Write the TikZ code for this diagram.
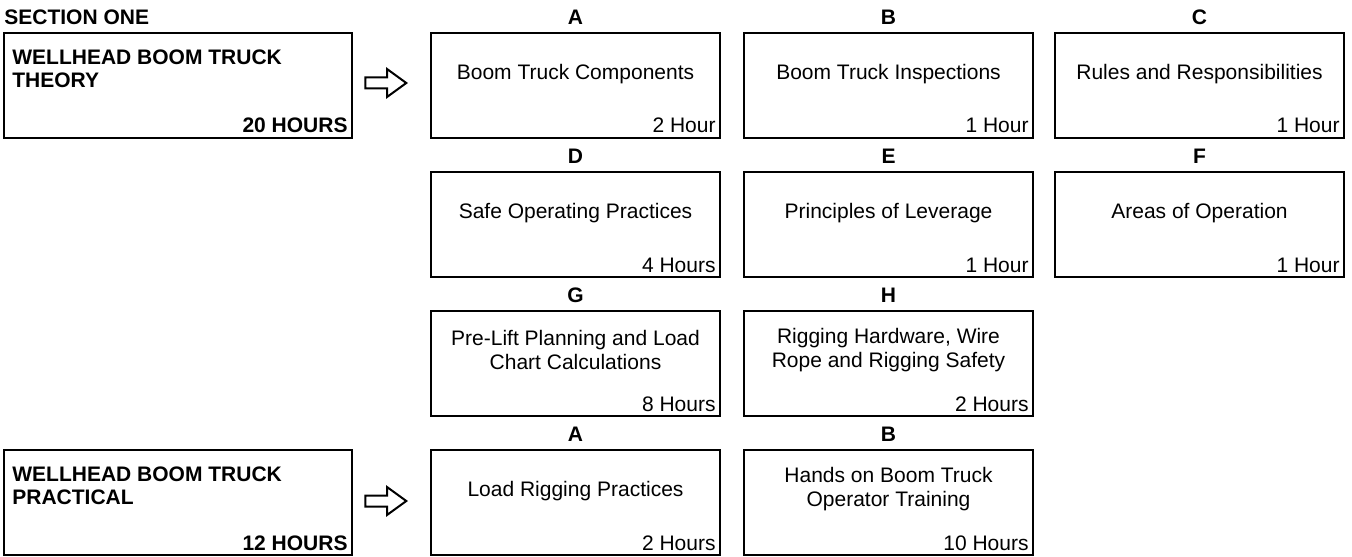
\documentclass[tikz,border=0pt]{standalone}
\usepackage{fontspec}
\setmainfont{Liberation Sans}
\usetikzlibrary{shapes.arrows}

\begin{document}
\begin{tikzpicture}[x=0.5pt,y=-0.5pt,font=\fontsize{10.5}{12}\selectfont,
  unit/.style={draw,line width=1pt,anchor=north west,inner sep=0pt,minimum width=144.5pt,minimum height=52.5pt},
  part/.style={unit,minimum width=174pt},
  title/.style={anchor=base west,align=left,inner sep=0pt,font=\fontsize{10.5}{11.5}\selectfont\bfseries},
  topic/.style={align=center,inner sep=0pt},
  hrs/.style={anchor=base east,inner sep=0pt},
  letter/.style={font=\fontsize{10.5}{12}\selectfont\bfseries},
  goes/.style={single arrow,draw,line width=1pt,inner sep=2.25pt,minimum height=20.5pt,
    single arrow head extend=4.25pt,single arrow tip angle=72}]
\useasboundingbox (0,0) rectangle (1352,556);

\node[anchor=base west,font=\fontsize{10.5}{12}\selectfont\bfseries,inner sep=0pt] (sec) at (4,25) {SECTION ONE};

% theory
\node[part] (theory) at (3,32) {};
\node[title] at ([xshift=4.5pt,yshift=-27.75pt]theory.north west) {WELLHEAD BOOM TRUCK\\THEORY};
\node[hrs,font=\fontsize{10.5}{12}\selectfont\bfseries] at ([xshift=-2.5pt,yshift=3pt]theory.south east) {20 HOURS};
\node[goes] (go1) at (382,83) {};

\node[unit] (a1) at (430,32) {};
\node[unit] (b1) at (743,32) {};
\node[unit] (c1) at (1054,32) {};
\node[unit] (d1) at (430,171) {};
\node[unit] (e1) at (743,171) {};
\node[unit] (f1) at (1054,171) {};
\node[unit] (g1) at (430,310) {};
\node[unit] (h1) at (743,310) {};

\node[letter] at ([yshift=7.5pt]a1.north) {A};
\node[letter] at ([yshift=7.5pt]b1.north) {B};
\node[letter] at ([yshift=7.5pt]c1.north) {C};
\node[letter] at ([yshift=7.5pt]d1.north) {D};
\node[letter] at ([yshift=7.5pt]e1.north) {E};
\node[letter] at ([yshift=7.5pt]f1.north) {F};
\node[letter] at ([yshift=7.5pt]g1.north) {G};
\node[letter] at ([yshift=7.5pt]h1.north) {H};

\node[topic] at ([yshift=-21pt]a1.north) {Boom Truck Components};
\node[topic] at ([yshift=-21pt]b1.north) {Boom Truck Inspections};
\node[topic] at ([yshift=-21pt]c1.north) {Rules and Responsibilities};
\node[topic] at ([yshift=-21pt]d1.north) {Safe Operating Practices};
\node[topic] at ([yshift=-21pt]e1.north) {Principles of Leverage};
\node[topic] at ([yshift=-21pt]f1.north) {Areas of Operation};
\node[topic] at ([yshift=-20pt]g1.north) {Pre-Lift Planning and Load\\Chart Calculations};
\node[topic] at ([yshift=-20pt]h1.north) {Rigging Hardware, Wire\\Rope and Rigging Safety};

\node[hrs] at ([xshift=-2.5pt,yshift=3pt]a1.south east) {2 Hour};
\node[hrs] at ([xshift=-2.5pt,yshift=3pt]b1.south east) {1 Hour};
\node[hrs] at ([xshift=-2.5pt,yshift=3pt]c1.south east) {1 Hour};
\node[hrs] at ([xshift=-2.5pt,yshift=3pt]d1.south east) {4 Hours};
\node[hrs] at ([xshift=-2.5pt,yshift=3pt]e1.south east) {1 Hour};
\node[hrs] at ([xshift=-2.5pt,yshift=3pt]f1.south east) {1 Hour};
\node[hrs] at ([xshift=-2.5pt,yshift=3pt]g1.south east) {8 Hours};
\node[hrs] at ([xshift=-2.5pt,yshift=3pt]h1.south east) {2 Hours};

% practical
\node[part] (practical) at (3,449) {};
\node[title] at ([xshift=4.5pt,yshift=-27.75pt]practical.north west) {WELLHEAD BOOM TRUCK\\PRACTICAL};
\node[hrs,font=\fontsize{10.5}{12}\selectfont\bfseries] at ([xshift=-2.5pt,yshift=3pt]practical.south east) {12 HOURS};
\node[goes] (go2) at (382,501) {};

\node[unit] (a2) at (430,449) {};
\node[unit] (b2) at (743,449) {};

\node[letter] at ([yshift=7.5pt]a2.north) {A};
\node[letter] at ([yshift=7.5pt]b2.north) {B};

\node[topic] at ([yshift=-21pt]a2.north) {Load Rigging Practices};
\node[topic] at ([yshift=-20pt]b2.north) {Hands on Boom Truck\\Operator Training};

\node[hrs] at ([xshift=-2.5pt,yshift=3pt]a2.south east) {2 Hours};
\node[hrs] at ([xshift=-2.5pt,yshift=3pt]b2.south east) {10 Hours};
\end{tikzpicture}
\end{document}
